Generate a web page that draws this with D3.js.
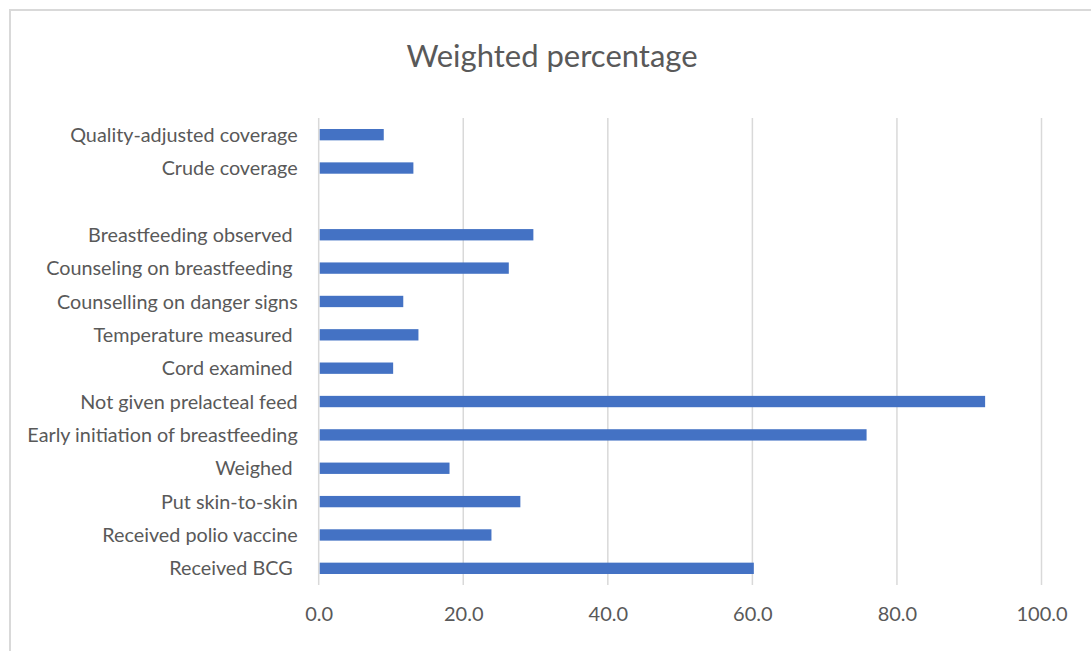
<!DOCTYPE html>
<html>
<head>
<meta charset="utf-8">
<script src="https://cdn.jsdelivr.net/npm/d3@7/dist/d3.min.js"></script>
<style>
  html, body { margin: 0; padding: 0; background: #ffffff; }
  svg { display: block; }
  text { font-family: Lato, "Open Sans", sans-serif; fill: #595959; white-space: pre; }
</style>
</head>
<body>
<svg id="chart" width="1091" height="651"></svg>
<script>
// Indicator rows, top to bottom; the single-space entry is an empty spacer row.
const categories = [
  "Quality-adjusted coverage",
  "Crude coverage",
  " ",
  "Breastfeeding observed ",
  "Counseling on breastfeeding ",
  "Counselling on danger signs",
  "Temperature measured ",
  "Cord examined ",
  "Not given prelacteal feed",
  "Early initiation of breastfeeding",
  "Weighed ",
  "Put skin-to-skin",
  "Received polio vaccine",
  "Received BCG "
];
// Weighted percentage for each row (null = spacer)
const values = [9.0, 13.1, null, 29.7, 26.3, 11.7, 13.8, 10.3, 92.2, 75.8, 18.1, 27.9, 23.9, 60.2];
const xTicks = [0, 20, 40, 60, 80, 100];
const title = "Weighted percentage";

const rows = categories.map((c, i) => ({ category: c, value: values[i] }));

const svg = d3.select("#chart");
const W = 1091, H = 651;
const plot = { left: 318.7, right: 1041.5, top: 118, bottom: 585 };

// Chart-area frame (runs off the right and bottom edges)
svg.append("rect")
  .attr("x", 10).attr("y", 10)
  .attr("width", W + 20).attr("height", H + 20)
  .attr("fill", "#ffffff")
  .attr("stroke", "#d9d9d9")
  .attr("stroke-width", 2);

// Title
svg.append("text")
  .attr("x", 552).attr("y", 67)
  .attr("text-anchor", "middle")
  .style("font-size", "31px")
  .text(title);

const x = d3.scaleLinear().domain([0, 100]).range([plot.left, plot.right]);
const y = d3.scaleBand()
  .domain(categories)
  .range([plot.top, plot.bottom])
  .paddingInner(0.66)
  .paddingOuter(0.33);

// Vertical gridlines
svg.append("g")
  .selectAll("line")
  .data(xTicks)
  .join("line")
  .attr("x1", d => x(d)).attr("x2", d => x(d))
  .attr("y1", plot.top).attr("y2", plot.bottom)
  .attr("stroke", "#d9d9d9")
  .attr("stroke-width", 1.5);

// Bars
svg.append("g")
  .selectAll("rect")
  .data(rows.filter(d => d.value != null))
  .join("rect")
  .attr("x", x(0) + 1)
  .attr("y", d => y(d.category))
  .attr("width", d => x(d.value) - x(0) - 1)
  .attr("height", y.bandwidth())
  .attr("fill", "#4472c4");

// Category axis (labels only)
const yAxis = svg.append("g")
  .attr("transform", `translate(${plot.left - 21},0)`)
  .call(d3.axisLeft(y).tickSize(0).tickPadding(0));
yAxis.select(".domain").remove();
yAxis.selectAll("text")
  .attr("xml:space", "preserve")
  .attr("dy", "0.36em")
  .style("font-size", "19.8px")
  .style("fill", "#595959")
  .style("font-family", "Lato, 'Open Sans', sans-serif");

// Value axis (labels only)
const xAxis = svg.append("g")
  .attr("transform", `translate(0,${plot.bottom + 22})`)
  .call(d3.axisBottom(x).tickValues(xTicks).tickFormat(d3.format(".1f")).tickSize(0).tickPadding(0));
xAxis.select(".domain").remove();
xAxis.selectAll("text")
  .attr("dy", "0.71em")
  .style("font-size", "20px")
  .style("fill", "#595959")
  .style("font-family", "Lato, 'Open Sans', sans-serif");
</script>
</body>
</html>
